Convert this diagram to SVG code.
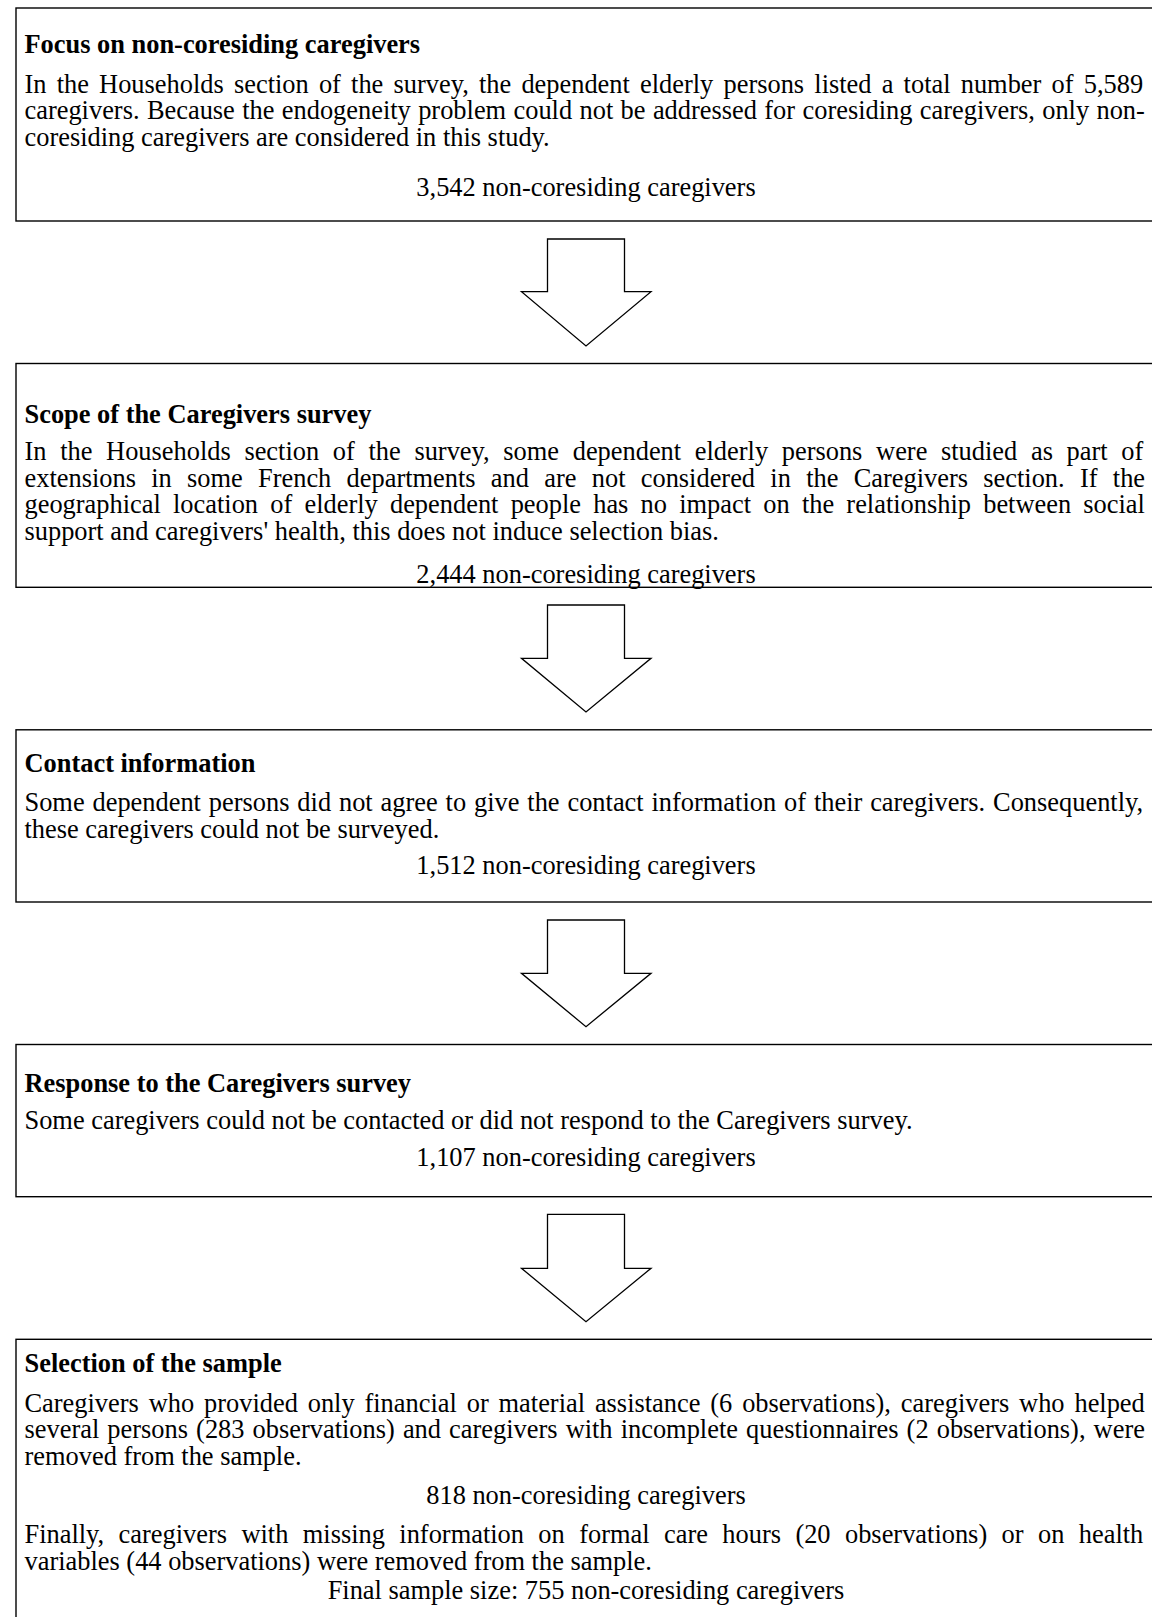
<svg xmlns="http://www.w3.org/2000/svg" width="1152" height="1617" viewBox="0 0 1152 1617">
<style>
.box{fill:#fff;stroke:#000;stroke-width:1.4}
.arrow{fill:#fff;stroke:#000;stroke-width:1.3;stroke-linejoin:miter}
text{font-family:"Liberation Serif","Times New Roman",serif;font-size:26.4px;fill:#000}
.h{font-weight:bold}
.c{text-anchor:middle}
</style>
<rect width="1152" height="1617" fill="#fff"/>
<g id="node1">
<rect class="box" x="16" y="8" width="1150" height="213"/>
<text class="h" x="24.5" y="52.5">Focus on non-coresiding caregivers</text>
<text x="24.5" y="92.7" word-spacing="3.6">In the Households section of the survey, the dependent elderly persons listed a total number of 5,589</text>
<text x="24.5" y="119.2" word-spacing="0.78">caregivers. Because the endogeneity problem could not be addressed for coresiding caregivers, only non-</text>
<text x="24.5" y="145.7">coresiding caregivers are considered in this study.</text>
<text class="c" x="586" y="196">3,542 non-coresiding caregivers</text>
</g>
<g id="node2">
<rect class="box" x="16" y="363.5" width="1150" height="223.8"/>
<text class="h" x="24.5" y="423">Scope of the Caregivers survey</text>
<text x="24.5" y="460.2" word-spacing="7.08">In the Households section of the survey, some dependent elderly persons were studied as part of</text>
<text x="24.5" y="486.7" word-spacing="8.69">extensions in some French departments and are not considered in the Caregivers section. If the</text>
<text x="24.5" y="513.2" word-spacing="5.63">geographical location of elderly dependent people has no impact on the relationship between social</text>
<text x="24.5" y="539.7">support and caregivers' health, this does not induce selection bias.</text>
<text class="c" x="586" y="583">2,444 non-coresiding caregivers</text>
</g>
<g id="node3">
<rect class="box" x="16" y="729.8" width="1150" height="172.2"/>
<text class="h" x="24.5" y="772.3">Contact information</text>
<text x="24.5" y="810.5" word-spacing="1.29">Some dependent persons did not agree to give the contact information of their caregivers. Consequently,</text>
<text x="24.5" y="837.8">these caregivers could not be surveyed.</text>
<text class="c" x="586" y="873.5">1,512 non-coresiding caregivers</text>
</g>
<g id="node4">
<rect class="box" x="16" y="1044.5" width="1150" height="152.2"/>
<text class="h" x="24.5" y="1091.5">Response to the Caregivers survey</text>
<text x="24.5" y="1129.2">Some caregivers could not be contacted or did not respond to the Caregivers survey.</text>
<text class="c" x="586" y="1165.5">1,107 non-coresiding caregivers</text>
</g>
<g id="node5">
<rect class="box" x="16" y="1339.3" width="1150" height="300"/>
<text class="h" x="24.5" y="1371.7">Selection of the sample</text>
<text x="24.5" y="1411.5" word-spacing="3.28">Caregivers who provided only financial or material assistance (6 observations), caregivers who helped</text>
<text x="24.5" y="1438" word-spacing="1.52">several persons (283 observations) and caregivers with incomplete questionnaires (2 observations), were</text>
<text x="24.5" y="1464.5">removed from the sample.</text>
<text class="c" x="586" y="1504">818 non-coresiding caregivers</text>
<text x="24.5" y="1543" word-spacing="7.83">Finally, caregivers with missing information on formal care hours (20 observations) or on health</text>
<text x="24.5" y="1569.5">variables (44 observations) were removed from the sample.</text>
<text class="c" x="586" y="1599">Final sample size: 755 non-coresiding caregivers</text>
</g>
<g id="connectors">
<polygon class="arrow" points="547.5,239 624.5,239 624.5,291.7 651,291.7 586,346 521.5,291.7 547.5,291.7"/>
<polygon class="arrow" points="547.5,605 624.5,605 624.5,658.3 651,658.3 586,712 521.5,658.3 547.5,658.3"/>
<polygon class="arrow" points="547.5,920 624.5,920 624.5,973.3 651,973.3 586,1026.7 521.5,973.3 547.5,973.3"/>
<polygon class="arrow" points="547.5,1214.3 624.5,1214.3 624.5,1268.3 651,1268.3 586,1321.7 521.5,1268.3 547.5,1268.3"/>
</g>
</svg>
